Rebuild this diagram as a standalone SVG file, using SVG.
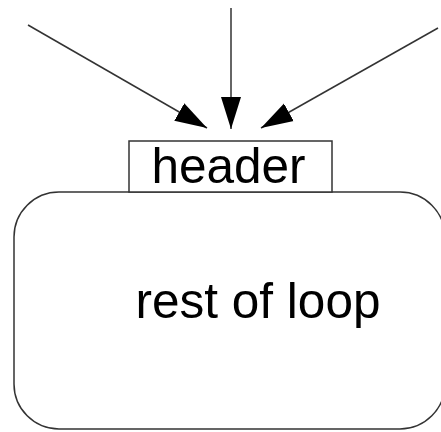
<svg xmlns="http://www.w3.org/2000/svg" width="441" height="432" viewBox="0 0 441 432">
<style>
.box{fill:#fff;stroke:#333;stroke-width:1.5}
.lbl{font-family:"Liberation Sans",Arial,sans-serif;font-size:49.5px;fill:#000;text-anchor:middle}
.edge{stroke:#333;stroke-width:1.5;fill:none;marker-end:url(#ah)}
</style>
<defs>
<marker id="ah" markerUnits="userSpaceOnUse" markerWidth="34" markerHeight="22" viewBox="0 0 34 22" refX="32" refY="11" orient="auto">
<path d="M0,1 L32,11 L0,21 Z" fill="#000"/>
</marker>
</defs>
<rect width="441" height="432" fill="#fff"/>
<g id="connectors">
<line class="edge" x1="28" y1="25" x2="207" y2="128"/>
<line class="edge" x1="231" y1="8" x2="231" y2="129"/>
<line class="edge" x1="438" y1="28" x2="261" y2="128"/>
</g>
<g id="rest">
<rect class="box" x="14" y="192" width="431" height="237" rx="45" ry="45"/>
<text class="lbl" x="258" y="318">rest of loop</text>
</g>
<g id="header">
<rect class="box" x="129" y="141" width="203" height="51"/>
<text class="lbl" x="228.5" y="183">header</text>
</g>
</svg>
